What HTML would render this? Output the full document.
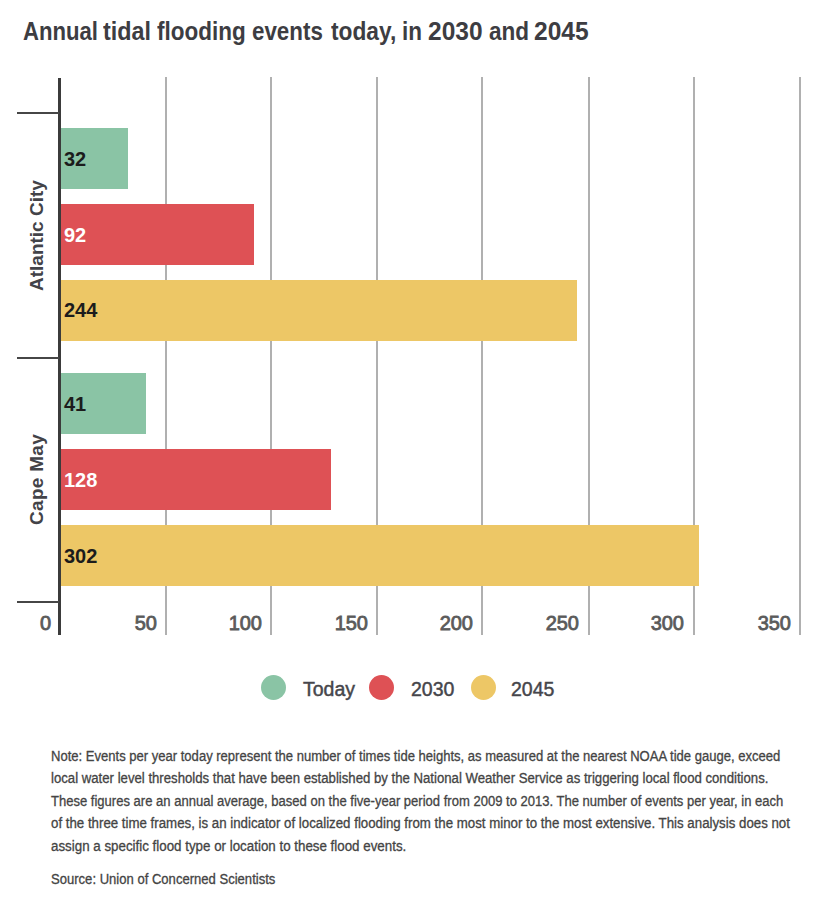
<!DOCTYPE html>
<html><head><meta charset="utf-8">
<style>
html,body{margin:0;padding:0;background:#fff;}
body{width:815px;height:907px;position:relative;overflow:hidden;font-family:"Liberation Sans",sans-serif;}
.a{position:absolute;white-space:nowrap;}
.tw{top:15.5px;font-size:25px;font-weight:bold;color:#3d3d42;transform-origin:0 0;line-height:30px;}
.grid{position:absolute;top:77px;height:558px;width:2px;background:#b0b0b0;}
.axis{position:absolute;left:58px;top:78px;width:3px;height:557px;background:#3b3b3b;}
.tick{position:absolute;left:17px;width:42px;height:2px;background:#464646;}
.bar{position:absolute;left:60px;height:61px;}
.g{background:#8ac4a5;}
.r{background:#de5155;}
.y{background:#edc766;}
.val{position:absolute;left:64px;font-size:20px;font-weight:bold;line-height:20px;color:#1c1c1c;}
.val.w{color:#fff;}
.xl{position:absolute;top:612px;font-size:20px;color:#5b5b5b;line-height:22px;text-align:right;width:60px;-webkit-text-stroke:0.8px #5b5b5b;}
.grp{position:absolute;font-size:19px;font-weight:bold;color:#434348;line-height:20px;transform-origin:0 0;}
.dot{position:absolute;top:675px;width:25px;height:25px;border-radius:50%;}
.leg{position:absolute;top:677.5px;font-size:19.5px;color:#46464b;line-height:22px;-webkit-text-stroke:0.45px #46464b;}
.note{position:absolute;white-space:nowrap;left:51px;font-size:14px;color:#444;-webkit-text-stroke:0.3px #444;line-height:16px;transform-origin:0 0;}
</style></head>
<body>
<div class="a tw" style="left:23.1px;transform:scaleX(0.885)">Annual</div>
<div class="a tw" style="left:103.3px;transform:scaleX(0.934)">tidal</div>
<div class="a tw" style="left:157.3px;transform:scaleX(0.899)">flooding</div>
<div class="a tw" style="left:251.9px;transform:scaleX(0.894)">events</div>
<div class="a tw" style="left:331.3px;transform:scaleX(0.909)">today,</div>
<div class="a tw" style="left:402.1px;transform:scaleX(0.900)">in</div>
<div class="a tw" style="left:427.5px;transform:scaleX(0.980)">2030</div>
<div class="a tw" style="left:488.9px;transform:scaleX(0.901)">and</div>
<div class="a tw" style="left:534.3px;transform:scaleX(0.982)">2045</div>

<div class="grid" style="left:165px"></div>
<div class="grid" style="left:270px"></div>
<div class="grid" style="left:376px"></div>
<div class="grid" style="left:481px"></div>
<div class="grid" style="left:588px"></div>
<div class="grid" style="left:693px"></div>
<div class="grid" style="left:799px"></div>

<div class="bar g" style="top:128px;width:68px;"></div>
<div class="bar r" style="top:204px;width:194px;"></div>
<div class="bar y" style="top:280px;width:517px;"></div>
<div class="bar g" style="top:373px;width:86px;"></div>
<div class="bar r" style="top:449px;width:271px;"></div>
<div class="bar y" style="top:525px;width:639px;"></div>

<div class="axis"></div>
<div class="tick" style="top:112px"></div>
<div class="tick" style="top:357px"></div>
<div class="tick" style="top:601px"></div>

<div class="val" style="top:148.5px">32</div>
<div class="val w" style="top:224.5px">92</div>
<div class="val" style="top:300.3px">244</div>
<div class="val" style="top:393.5px">41</div>
<div class="val w" style="top:469.5px">128</div>
<div class="val" style="top:545.5px">302</div>

<div class="xl" style="left:-9px">0</div>
<div class="xl" style="left:97px">50</div>
<div class="xl" style="left:202px">100</div>
<div class="xl" style="left:308px">150</div>
<div class="xl" style="left:413px">200</div>
<div class="xl" style="left:519px">250</div>
<div class="xl" style="left:624px">300</div>
<div class="xl" style="left:731px">350</div>

<div class="grp" id="g1" style="left:27px;top:291px;transform:rotate(-90deg)">Atlantic City</div>
<div class="grp" id="g2" style="left:27px;top:524.5px;letter-spacing:0.3px;transform:rotate(-90deg)">Cape May</div>

<div class="dot g" style="left:261px"></div>
<div class="leg" style="left:303px">Today</div>
<div class="dot r" style="left:369px"></div>
<div class="leg" style="left:411px">2030</div>
<div class="dot y" style="left:471px"></div>
<div class="leg" style="left:511px">2045</div>

<div class="note" style="top:748.1px;transform:scaleX(0.9315)">Note: Events per year today represent the number of times tide heights, as measured at the nearest NOAA tide gauge, exceed</div>
<div class="note" style="top:769.8px;transform:scaleX(0.941)">local water level thresholds that have been established by the National Weather Service as triggering local flood conditions.</div>
<div class="note" style="top:793.2px;transform:scaleX(0.931)">These figures are an annual average, based on the five-year period from 2009 to 2013. The number of events per year, in each</div>
<div class="note" style="top:815.4px;transform:scaleX(0.948)">of the three time frames, is an indicator of localized flooding from the most minor to the most extensive. This analysis does not</div>
<div class="note" style="top:837.5px;transform:scaleX(0.953)">assign a specific flood type or location to these flood events.</div>
<div class="note" style="top:871.2px;transform:scaleX(0.933)">Source: Union of Concerned Scientists</div>
</body></html>
